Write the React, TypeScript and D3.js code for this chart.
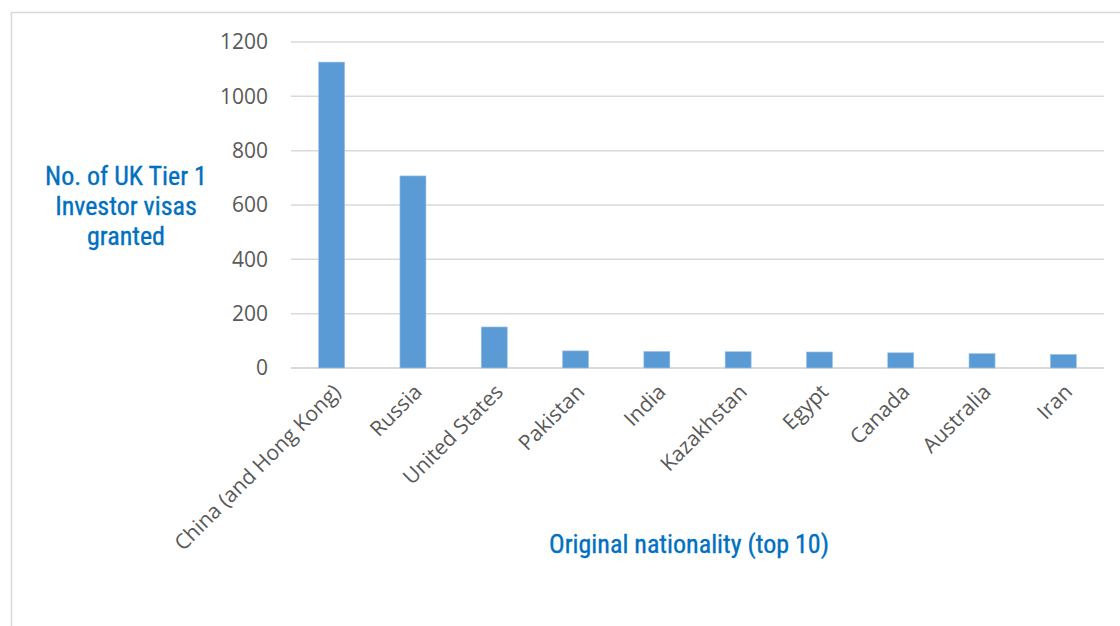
import React from "react";
import * as d3 from "d3";

const categories = [
  "China (and Hong Kong)",
  "Russia",
  "United States",
  "Pakistan",
  "India",
  "Kazakhstan",
  "Egypt",
  "Canada",
  "Australia",
  "Iran",
];
const visas = [1126, 707, 151, 63, 61, 60, 59, 56, 53, 50];
const yTicks = [0, 200, 400, 600, 800, 1000, 1200];
const yTitleLines = ["No. of UK Tier 1", "Investor visas", "granted"];
const xTitle = "Original nationality (top 10)";

export default function App() {
  const W = 1120, H = 626;
  const left = 291, right = 1104, top = 42, bottom = 368;
  const x = d3.scaleBand<string>().domain(categories).range([left, right]).paddingInner(0.68).paddingOuter(0.34);
  const y = d3.scaleLinear().domain([0, 1200]).range([bottom, top]);
  const titleFont = "'Liberation Sans Narrow', 'Arial Narrow', 'Roboto Condensed', sans-serif";
  const tickFont = "'Open Sans', 'Noto Sans', sans-serif";
  return (
    <svg width={W} height={H} style={{ position: "absolute", left: 0, top: 0, background: "#fff" }}>
      <path d={`M11.5,${H} V12.5 H${W}`} fill="none" stroke="#d9d9d9" strokeWidth={1.5} />
      {yTicks.map((t) => (
        <g key={t}>
          <line x1={left} x2={right} y1={y(t)} y2={y(t)} stroke="#d9d9d9" strokeWidth={t === 0 ? 2 : 1.5} />
          <text x={268} y={y(t)} dy="0.35em" textAnchor="end" fontFamily={tickFont} fontSize={21} fill="#595959">
            {t}
          </text>
        </g>
      ))}
      {categories.map((c, i) => (
        <rect
          key={c}
          x={x(c)!}
          y={y(visas[i])}
          width={x.bandwidth()}
          height={y(0) - y(visas[i])}
          fill="#5b9bd5"
          stroke="#9dc3e6"
          strokeWidth={0.6}
        />
      ))}
      {categories.map((c) => {
        const cx = x(c)! + x.bandwidth() / 2 + 5;
        return (
          <text
            key={c}
            transform={`translate(${cx},${388}) rotate(-45)`}
            textAnchor="end"
            dy="0.35em"
            fontFamily={tickFont}
            fontSize={21}
            fill="#595959"
          >
            {c}
          </text>
        );
      })}
      <text
        textAnchor="middle"
        fontFamily={titleFont}
        fontSize={26}
        fill="#0070c0"
        stroke="#0070c0"
        strokeWidth={0.35}
      >
        {yTitleLines.map((l, i) => (
          <tspan key={l} x={126} y={185 + i * 30}>
            {l}
          </tspan>
        ))}
      </text>
      <text
        x={689}
        y={553}
        textAnchor="middle"
        fontFamily={titleFont}
        fontSize={26}
        fill="#0070c0"
        stroke="#0070c0"
        strokeWidth={0.35}
      >
        {xTitle}
      </text>
    </svg>
  );
}
